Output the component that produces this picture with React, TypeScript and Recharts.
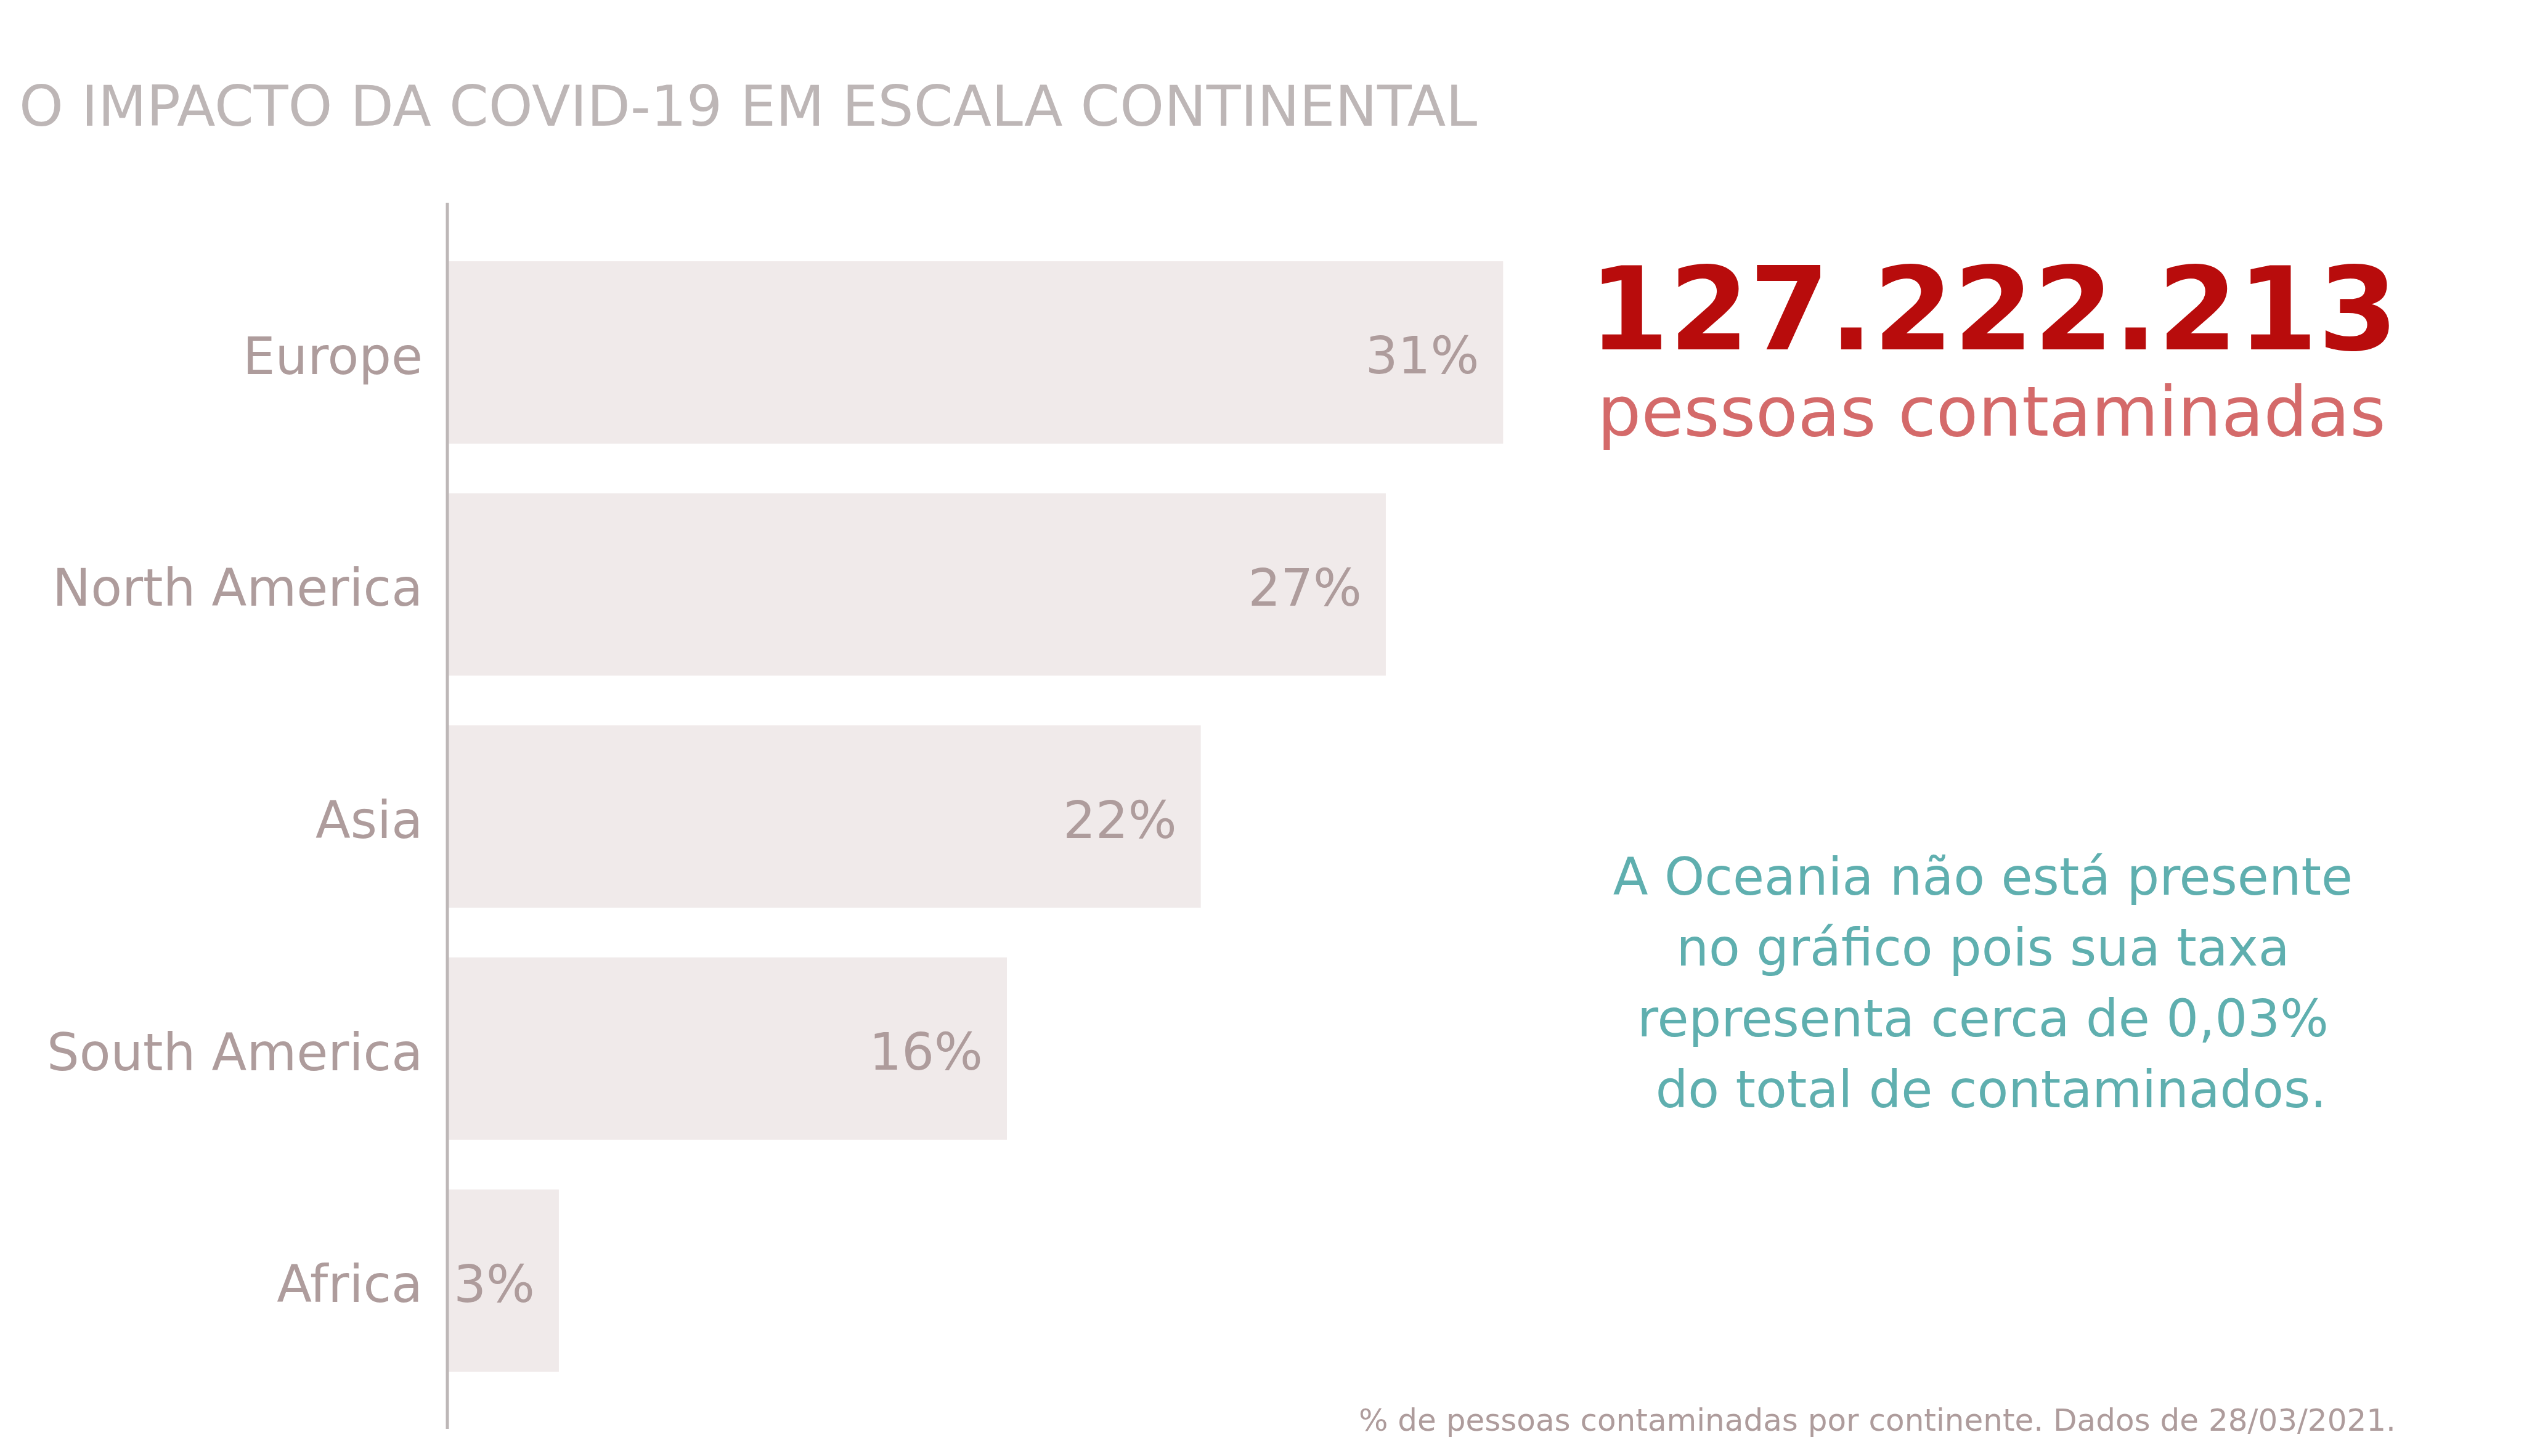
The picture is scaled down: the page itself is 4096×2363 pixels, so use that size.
import { BarChart, Bar, XAxis, YAxis, LabelList } from "recharts";

// % de pessoas contaminadas por continente (28/03/2021)
const continents = ["Europe", "North America", "Asia", "South America", "Africa"];
const shares = [30.87, 27.44, 22.03, 16.36, 3.26];

const title = "O IMPACTO DA COVID-19 EM ESCALA CONTINENTAL";
const totalCases = "127.222.213";
const totalLabel = "pessoas contaminadas";
const noteLines = [
  "A Oceania não está presente",
  "no gráfico pois sua taxa",
  "representa cerca de 0,03%",
  " do total de contaminados.",
];
const footnote = "% de pessoas contaminadas por continente. Dados de 28/03/2021.";

const FONT = "'DejaVu Sans', sans-serif";
const MUTED = "#ae9c9c";

const chartData = continents.map((name, i) => ({ name, share: shares[i] }));

export default function App() {
  return (
    <div
      style={{
        position: "absolute",
        left: 0,
        top: 0,
        width: 4096,
        height: 2363,
        background: "#ffffff",
        fontFamily: FONT,
      }}
    >
      <BarChart
        width={4096}
        height={2363}
        layout="vertical"
        data={chartData}
        margin={{ top: 329, right: 1150, bottom: 44, left: 0 }}
      >
        <XAxis type="number" domain={[0, 40]} hide />
        <YAxis
          type="category"
          dataKey="name"
          width={726}
          padding={{ top: 55, bottom: 52 }}
          tickLine={false}
          tickSize={0}
          tickMargin={40}
          axisLine={{ stroke: "#bdb7b7", strokeWidth: 5 }}
          tick={{ fontSize: 83, fill: MUTED, fontFamily: FONT, dy: 5 }}
        />
        <Bar dataKey="share" fill="#f0eaea" barSize={296} isAnimationActive={false}>
          <LabelList
            dataKey="share"
            position="insideRight"
            offset={39}
            dy={5}
            formatter={(v: number) => `${Math.round(v)}%`}
            style={{ fontSize: 83, fill: MUTED, fontFamily: FONT }}
          />
        </Bar>
      </BarChart>
      <svg
        width={4096}
        height={2363}
        style={{ position: "absolute", left: 0, top: 0, pointerEvents: "none" }}
      >
        <text x={31} y={204} fontSize={91.4} fill="#bdb6b6" fontFamily={FONT}>
          {title}
        </text>
        <text
          x={3235}
          y={567}
          fontSize={187}
          fontWeight="bold"
          fill="#b80c0c"
          textAnchor="middle"
          fontFamily={FONT}
        >
          {totalCases}
        </text>
        <text x={3232} y={707} fontSize={112} fill="#d46a6a" textAnchor="middle" fontFamily={FONT}>
          {totalLabel}
        </text>
        {noteLines.map((line, i) => (
          <text
            key={i}
            x={3218}
            y={1452 + i * 115}
            fontSize={83}
            fill="#5fafaf"
            textAnchor="middle"
            fontFamily={FONT}
            style={{ whiteSpace: "pre" }}
          >
            {line}
          </text>
        ))}
        <text x={3888} y={2322} fontSize={50} fill={MUTED} textAnchor="end" fontFamily={FONT}>
          {footnote}
        </text>
      </svg>
    </div>
  );
}
